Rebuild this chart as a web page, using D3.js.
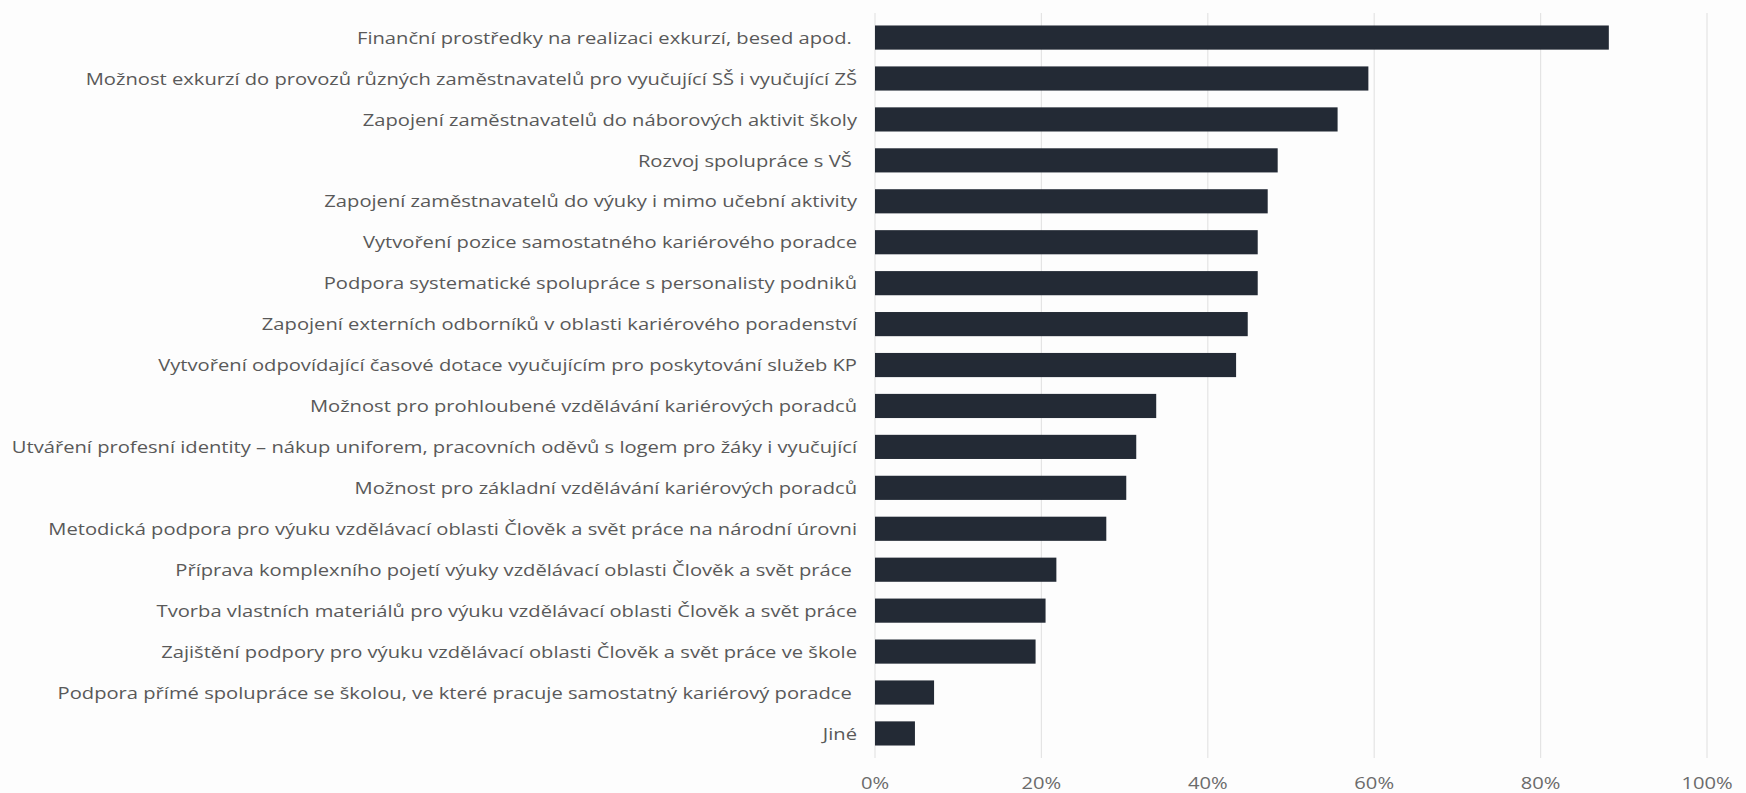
<!DOCTYPE html>
<html><head><meta charset="utf-8">
<script src="https://cdn.jsdelivr.net/npm/d3@7"></script>
<style>body{margin:0;background:#fdfdfd;}svg{display:block;}</style>
</head><body>
<svg id="c" width="1746" height="793"></svg>
<script>
const categories = [
 "Finanční prostředky na realizaci exkurzí, besed apod. ",
 "Možnost exkurzí do provozů různých zaměstnavatelů pro vyučující SŠ i vyučující ZŠ",
 "Zapojení zaměstnavatelů do náborových aktivit školy",
 "Rozvoj spolupráce s VŠ ",
 "Zapojení zaměstnavatelů do výuky i mimo učební aktivity",
 "Vytvoření pozice samostatného kariérového poradce",
 "Podpora systematické spolupráce s personalisty podniků",
 "Zapojení externích odborníků v oblasti kariérového poradenství",
 "Vytvoření odpovídající časové dotace vyučujícím pro poskytování služeb KP",
 "Možnost pro prohloubené vzdělávání kariérových poradců",
 "Utváření profesní identity – nákup uniforem, pracovních oděvů s logem pro žáky i vyučující",
 "Možnost pro základní vzdělávání kariérových poradců",
 "Metodická podpora pro výuku vzdělávací oblasti Člověk a svět práce na národní úrovni",
 "Příprava komplexního pojetí výuky vzdělávací oblasti Člověk a svět práce ",
 "Tvorba vlastních materiálů pro výuku vzdělávací oblasti Člověk a svět práce",
 "Zajištění podpory pro výuku vzdělávací oblasti Člověk a svět práce ve škole",
 "Podpora přímé spolupráce se školou, ve které pracuje samostatný kariérový poradce ",
 "Jiné"
];
const values = [88.2, 59.3, 55.6, 48.4, 47.2, 46.0, 46.0, 44.8, 43.4, 33.8, 31.4, 30.2, 27.8, 21.8, 20.5, 19.3, 7.1, 4.8];
const tickValues = [0, 20, 40, 60, 80, 100];
const tickLabels = ["0%", "20%", "40%", "60%", "80%", "100%"];

const svg = d3.select("#c");
const x = d3.scaleLinear().domain([0, 100]).range([875, 1707]);
const y = d3.scaleBand().domain(categories).range([13, 758]).paddingInner(0.41).paddingOuter(0.305);

// gridlines
svg.append("g").selectAll("line").data(tickValues).join("line")
  .attr("x1", d => x(d)).attr("x2", d => x(d))
  .attr("y1", 13).attr("y2", 758)
  .attr("stroke", "#e4e4e4").attr("stroke-width", 1.2);

// bars
svg.append("g").selectAll("rect").data(values).join("rect")
  .attr("x", x(0)).attr("y", (d, i) => y(categories[i]))
  .attr("width", d => x(d) - x(0)).attr("height", y.bandwidth())
  .attr("fill", "#232a35");

// category labels
const lab = svg.append("g").selectAll("text").data(categories).join("text")
  .attr("text-anchor", "end")
  .attr("font-family", "'Open Sans', sans-serif")
  .attr("font-size", 16)
  .attr("fill", "#595959")
  .attr("dominant-baseline", "central")
  .style("white-space", "pre")
  .text(d => d);
// stretch horizontally to match reference text width
let maxW = 0;
lab.each(function(){ maxW = Math.max(maxW, this.getComputedTextLength()); });
const sx = 846 / maxW;
lab.attr("transform", d => `translate(857,${y(d) + y.bandwidth()/2}) scale(${sx},1)`);

// x axis tick labels
svg.append("g").selectAll("text").data(tickValues).join("text")
  .attr("text-anchor", "middle")
  .attr("font-family", "'Open Sans', sans-serif")
  .attr("font-size", 16)
  .attr("fill", "#6b6b6b")
  .attr("transform", d => `translate(${x(d)},789) scale(${sx},1)`)
  .text((d, i) => tickLabels[i]);
</script>
</body></html>
